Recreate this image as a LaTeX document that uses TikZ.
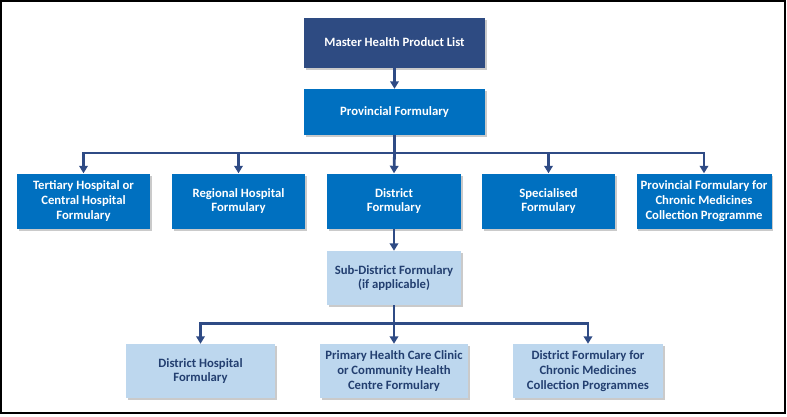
\documentclass[tikz,border=0pt]{standalone}
\usepackage{fontspec}
\setmainfont{Carlito}
\usetikzlibrary{arrows.meta,shadows}
\definecolor{masterblue}{HTML}{2E4B82}
\definecolor{provblue}{HTML}{0070C0}
\definecolor{lightblue}{HTML}{BDD7EE}
\definecolor{navytext}{HTML}{233F70}
\definecolor{linenavy}{HTML}{2F4B85}
\tikzset{
  boxbase/.style={rectangle, inner sep=2pt, align=center, font=\fontsize{12.7}{14.8}\selectfont\bfseries,
    drop shadow={shadow xshift=1.5pt, shadow yshift=-2pt, opacity=0.35, fill=black!60}},
  masterbox/.style={boxbase, fill=masterblue, text=white, minimum width=181pt, minimum height=50pt},
  darkbox/.style={boxbase, fill=provblue, text=white},
  lightbox/.style={boxbase, fill=lightblue, text=navytext},
  conn/.style={draw=linenavy, line width=2.8pt},
  arr/.style={conn, -{Triangle[width=8.5pt,length=7.5pt]}}
}
\begin{document}
\begin{tikzpicture}[x=1pt,y=-1pt]
\useasboundingbox (0,0) rectangle (787,416);
\draw[line width=2pt, black] (1,1) rectangle (785,413);

\node[masterbox] (master) at (394.5,42.5) {Master Health Product List};
\node[darkbox, minimum width=181pt, minimum height=46pt] (prov) at (394.5,112) {Provincial Formulary};

\node[darkbox, minimum width=133pt, minimum height=55pt] (tert) at (83.5,201) {Tertiary Hospital or\\Central Hospital\\Formulary};
\node[darkbox, minimum width=133pt, minimum height=55pt] (reg) at (238.5,201) {Regional Hospital\\Formulary};
\node[darkbox, minimum width=134pt, minimum height=55pt] (dist) at (394,201) {District\\Formulary};
\node[darkbox, minimum width=133pt, minimum height=55pt] (spec) at (548.5,201) {Specialised\\Formulary};
\node[darkbox, minimum width=135pt, minimum height=55pt] (pchron) at (704,201) {Provincial Formulary for\\Chronic Medicines\\Collection Programme};

\node[lightbox, minimum width=134pt, minimum height=54pt] (sub) at (394,278) {Sub-District Formulary\\(if applicable)};

\node[lightbox, minimum width=149pt, minimum height=54pt] (dh) at (200.5,371) {District Hospital\\Formulary};
\node[lightbox, minimum width=148pt, minimum height=54pt] (phc) at (394,371) {Primary Health Care Clinic\\or Community Health\\Centre Formulary};
\node[lightbox, minimum width=150pt, minimum height=54pt] (dchron) at (588,371) {District Formulary for\\Chronic Medicines\\Collection Programmes};

\coordinate (j1) at (394.5,153);
\coordinate (j2) at (394,323.5);

\draw[arr] (master) -- (prov);
\draw[conn] (prov.south) -- (j1);
\draw[arr] (j1) -| (tert.north);
\draw[arr] (j1) -| (reg.north);
\draw[arr] (j1) -- (dist.north);
\draw[arr] (j1) -| (spec.north);
\draw[arr] (j1) -| (pchron.north);

\draw[arr] (dist.south) -- (sub.north);
\draw[conn] (sub.south) -- (j2);
\draw[arr] (j2) -| (dh.north);
\draw[arr] (j2) -- (phc.north);
\draw[arr] (j2) -| (dchron.north);
\end{tikzpicture}
\end{document}
